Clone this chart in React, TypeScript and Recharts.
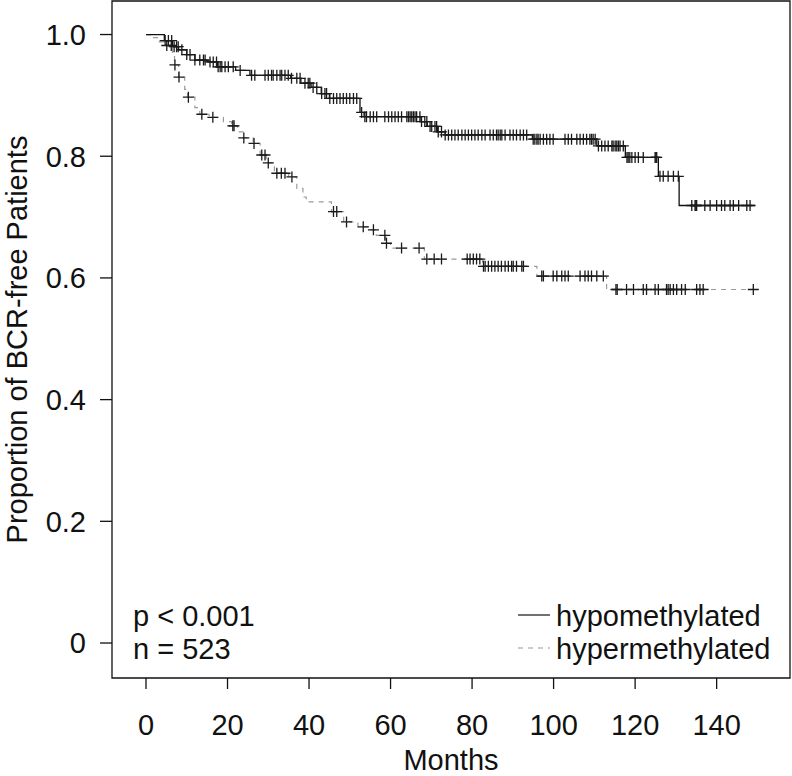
import {
  ComposedChart,
  Line,
  Scatter,
  XAxis,
  YAxis,
  ReferenceArea,
  Legend,
} from "recharts";

const FONT = '"Liberation Sans", Arial, Helvetica, sans-serif';
const INK = "#111";

const xTicks = [0, 20, 40, 60, 80, 100, 120, 140];
const yTicks = [0, 0.2, 0.4, 0.6, 0.8, 1.0];

const seriesNames = ["hypomethylated", "hypermethylated"];
const annotations = ["p < 0.001", "n = 523"];

// hypomethylated: step times (months) and survival after each step
const hypoTime = [
  0, 4.5, 6.5, 8, 10, 12, 15, 17.5, 22, 25.5, 35.5, 38, 40.5, 43, 45, 52.5,
  53.5, 67.5, 69, 71.5, 73.4, 94.8, 110.6, 117.6, 125.7, 130.8, 149.4,
];
const hypoSurv = [
  1, 0.99, 0.98, 0.975, 0.967, 0.958, 0.955, 0.947, 0.941, 0.933, 0.928, 0.92,
  0.913, 0.903, 0.895, 0.872, 0.865, 0.857, 0.849, 0.84, 0.835, 0.828, 0.817,
  0.798, 0.767, 0.719, 0.719,
];
const hypoCensor = [
  4.7, 5.5, 6.3, 6.9, 7.5, 7.9, 8.8, 10, 10.8, 12, 13.2, 14.1, 14.5, 15.7, 16.5,
  17.3, 17.7, 18.2, 18.6, 19.4, 20.2, 21.4, 23.1, 25.9, 26.7, 29.2, 30, 30.8,
  31.2, 32.1, 32.9, 33.3, 34.1, 34.9, 35.7, 37, 37.8, 39, 39.8, 40.2, 41, 41.9,
  43.1, 43.9, 44.3, 45.1, 46, 46.8, 47.6, 48.4, 49.2, 50, 50.9, 51.7, 52.9,
  53.7, 54.1, 55, 55.8, 56.6, 58.6, 59.5, 60.3, 61.1, 61.9, 62.7, 64, 64.4,
  64.8, 65.2, 65.6, 66, 66.4, 67.2, 67.6, 68.4, 68.9, 69.7, 70.1, 70.9, 71.3,
  71.7, 72.5, 73.4, 74.2, 75, 75.8, 76.6, 77.5, 78.3, 79.1, 79.9, 80.7, 81.5,
  82.4, 83.2, 84.4, 85.2, 86, 86.4, 86.9, 87.3, 88.1, 89.3, 90.1, 90.9, 91.8,
  92.6, 93.4, 95, 95.4, 95.9, 96.2, 96.7, 97.5, 98.3, 99.1, 99.9, 102.8, 103.6,
  104.4, 105.7, 106.5, 107.3, 108.1, 108.9, 109.3, 109.7, 110.2, 111, 111.8,
  112.6, 113.4, 114.3, 114.6, 115.1, 115.5, 115.9, 116.3, 117.1, 118, 118.3,
  118.7, 119.2, 120, 120.8, 122, 124.9, 125.1, 125.3, 126.1, 126.9, 128.1,
  129.4, 130.6, 133.9, 134.7, 134.9, 135.1, 137.1, 138.4, 140, 141.2, 142,
  143.3, 144.1, 145.4, 147.4, 148.2,
];

// hypermethylated
const hyperTime = [
  0, 1, 3, 5, 6.5, 7, 8, 9.5, 10.2, 12, 13.2, 15.5, 19, 21, 22.5, 23.8, 26.3,
  28, 29.5, 31.5, 35, 37, 38.5, 39.3, 45.5, 48.5, 52, 55, 56.5, 58.8, 60, 68.3,
  82.6, 95.9, 113, 149.5,
];
const hyperSurv = [
  1, 0.995, 0.988, 0.982, 0.965, 0.95, 0.93, 0.91, 0.897, 0.88, 0.869, 0.864,
  0.857, 0.85, 0.84, 0.83, 0.821, 0.802, 0.789, 0.772, 0.766, 0.747, 0.733,
  0.725, 0.709, 0.692, 0.684, 0.679, 0.67, 0.657, 0.649, 0.631, 0.619, 0.603,
  0.581, 0.581,
];
const hyperCensor = [
  5.1, 6.2, 7.1, 8.1, 10.4, 13.7, 16.4, 21.3, 21.6, 24, 26.5, 28.4, 29.2, 30,
  32.1, 33.2, 34.1, 35.8, 46, 46.8, 49.2, 53.3, 55.8, 58.6, 59, 62.7, 67, 68.9,
  70.7, 72.5, 78.8, 79.5, 80.3, 81.1, 81.9, 82.8, 83.2, 84, 84.8, 85.6, 86.4,
  87.2, 88.1, 88.9, 89.7, 90.1, 90.9, 92.2, 92.6, 97.1, 97.5, 99.9, 100.8, 102,
  102.8, 103.6, 106.5, 107.7, 108.5, 109.3, 110.6, 112.2, 115.3, 115.6, 117.9,
  119.6, 122, 122.8, 124.9, 125.7, 127.7, 128.1, 128.6, 129.4, 130.2, 131.4,
  132.3, 135.1, 135.9, 136.7, 149,
];

const X_DOMAIN: [number, number] = [-8.34, 158.0];
const Y_DOMAIN: [number, number] = [-0.0575, 1.0551];

const toSteps = (times: number[], surv: number[]) =>
  times.map((t, i) => ({ t, s: surv[i] }));

const survAt = (times: number[], surv: number[], t: number) => {
  let s = surv[0];
  times.forEach((tt, i) => {
    if (tt <= t) s = surv[i];
  });
  return s;
};

const marks = (times: number[], surv: number[], cens: number[]) =>
  cens.map((t) => ({ t, s: survAt(times, surv, t) }));

const hypoLine = toSteps(hypoTime, hypoSurv);
const hyperLine = toSteps(hyperTime, hyperSurv);
const hypoMarks = marks(hypoTime, hypoSurv, hypoCensor);
const hyperMarks = marks(hyperTime, hyperSurv, hyperCensor);

const Cross = (props: any) => {
  const { cx, cy } = props;
  if (cx == null || cy == null) return null;
  return (
    <path
      d={`M${cx - 5.5},${cy}H${cx + 5.5}M${cx},${cy - 5.5}V${cy + 5.5}`}
      stroke="#1a1a1a"
      strokeWidth={1.3}
      fill="none"
    />
  );
};

const YTitle = () => (
  <text
    transform="translate(26.5,339.5) rotate(-90)"
    textAnchor="middle"
    fontFamily={FONT}
    fontSize={29}
    fill={INK}
  >
    Proportion of BCR-free Patients
  </text>
);

const XTitle = () => (
  <text x={451} y={770} textAnchor="middle" fontFamily={FONT} fontSize={29} fill={INK}>
    Months
  </text>
);

const legendStyles = [
  { stroke: INK, dash: undefined },
  { stroke: "#9a9a9a", dash: "5 5" },
];

const LegendBox = () => (
  <div style={{ fontFamily: FONT, fontSize: 29, lineHeight: "33px", color: INK }}>
    {seriesNames.map((name, i) => (
      <div key={name} style={{ display: "flex", whiteSpace: "nowrap", height: 33 }}>
        <svg width={38} height={33} style={{ display: "block" }}>
          <line
            x1={0}
            x2={32}
            y1={15}
            y2={15}
            stroke={legendStyles[i].stroke}
            strokeWidth={1.2}
            strokeDasharray={legendStyles[i].dash}
          />
        </svg>
        <span>{name}</span>
      </div>
    ))}
  </div>
);

export default function App() {
  return (
    <div
      style={{
        position: "absolute",
        left: 0,
        top: 0,
        width: 792,
        height: 776,
        background: "#fff",
      }}
    >
      <ComposedChart
        width={792}
        height={776}
        margin={{ top: 1, right: 2, left: 0, bottom: 0 }}
      >
        <XAxis
          type="number"
          dataKey="t"
          domain={X_DOMAIN}
          allowDataOverflow
          ticks={xTicks}
          interval={0}
          height={98}
          axisLine={false}
          tickSize={11}
          tickMargin={25}
          tickLine={{ stroke: INK, strokeWidth: 1.3 }}
          tick={{ fontSize: 29, fill: INK, fontFamily: FONT }}
          label={<XTitle />}
        />
        <YAxis
          type="number"
          dataKey="s"
          domain={Y_DOMAIN}
          allowDataOverflow
          ticks={yTicks}
          interval={0}
          width={112}
          axisLine={false}
          tickSize={12}
          tickMargin={14}
          tickLine={{ stroke: INK, strokeWidth: 1.3 }}
          tick={{ fontSize: 29, fill: INK, fontFamily: FONT }}
          tickFormatter={(v: number) => (v === 0 ? "0" : v.toFixed(1))}
          label={<YTitle />}
        />
        <ReferenceArea
          x1={X_DOMAIN[0]}
          x2={X_DOMAIN[1]}
          y1={Y_DOMAIN[0]}
          y2={Y_DOMAIN[1]}
          fill="none"
          fillOpacity={0}
          stroke={INK}
          strokeWidth={1.3}
          ifOverflow="visible"
        />
        <Line
          data={hyperLine}
          dataKey="s"
          name={seriesNames[1]}
          type="stepAfter"
          stroke="#9a9a9a"
          strokeWidth={1.2}
          strokeDasharray="5 5"
          dot={false}
          activeDot={false}
          isAnimationActive={false}
        />
        <Line
          data={hypoLine}
          dataKey="s"
          name={seriesNames[0]}
          type="stepAfter"
          stroke={INK}
          strokeWidth={1.3}
          dot={false}
          activeDot={false}
          isAnimationActive={false}
        />
        <Scatter
          data={hyperMarks}
          dataKey="s"
          shape={<Cross />}
          legendType="none"
          isAnimationActive={false}
        />
        <Scatter
          data={hypoMarks}
          dataKey="s"
          shape={<Cross />}
          legendType="none"
          isAnimationActive={false}
        />
        <Legend
          layout="horizontal"
          verticalAlign="middle"
          align="center"
          content={() => <LegendBox />}
          wrapperStyle={{ left: 518, top: 599.5, width: "auto", height: "auto" }}
        />
      </ComposedChart>
      <div
        style={{
          position: "absolute",
          left: 133,
          top: 599.5,
          fontFamily: FONT,
          fontSize: 29,
          lineHeight: "33px",
          color: INK,
          whiteSpace: "nowrap",
        }}
      >
        {annotations.map((a) => (
          <div key={a}>{a}</div>
        ))}
      </div>
    </div>
  );
}
